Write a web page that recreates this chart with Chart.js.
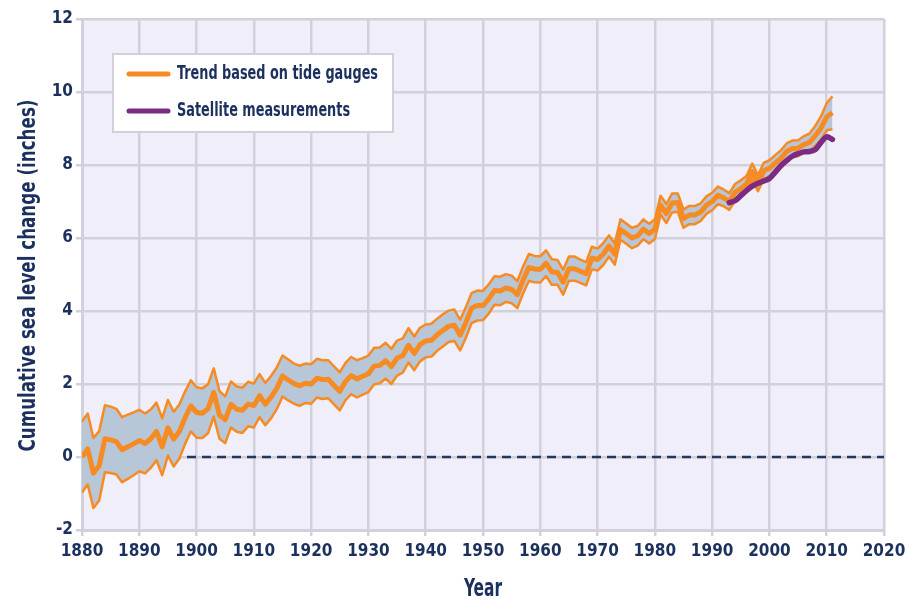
<!DOCTYPE html>
<html>
<head>
<meta charset="utf-8">
<title>Global average absolute sea level change</title>
<script src="https://cdn.jsdelivr.net/npm/chart.js@4.4.1/dist/chart.umd.min.js"></script>
<style>
  html, body { margin: 0; padding: 0; background: #fff; }
  #wrap { width: 917px; height: 601px; }
</style>
</head>
<body>
<div id="wrap"><canvas id="seaLevelChart" width="917" height="601"></canvas></div>
<script>
// Tide gauge reconstruction, one value per year starting 1880 (inches)
const trendStartYear = 1880;
const trendValues = [
  0.00, 0.22, -0.44, -0.24, 0.50, 0.47, 0.42, 0.20, 0.28, 0.36,
  0.45, 0.37, 0.50, 0.70, 0.28, 0.80, 0.49, 0.70, 1.08, 1.40,
  1.22, 1.20, 1.32, 1.77, 1.15, 1.02, 1.44, 1.31, 1.28, 1.45,
  1.41, 1.68, 1.45, 1.64, 1.88, 2.22, 2.11, 2.01, 1.95, 2.02,
  2.00, 2.16, 2.12, 2.13, 1.96, 1.80, 2.07, 2.23, 2.14, 2.21,
  2.28, 2.49, 2.51, 2.64, 2.48, 2.71, 2.78, 3.06, 2.84, 3.08,
  3.18, 3.20, 3.35, 3.47, 3.58, 3.61, 3.34, 3.68, 4.08, 4.15,
  4.15, 4.33, 4.56, 4.55, 4.63, 4.59, 4.45, 4.85, 5.19, 5.15,
  5.14, 5.31, 5.07, 5.06, 4.79, 5.16, 5.16, 5.09, 5.02, 5.45,
  5.41, 5.56, 5.78, 5.56, 6.23, 6.12, 6.00, 6.06, 6.24, 6.12,
  6.24, 6.90, 6.67, 6.96, 6.97, 6.53, 6.63, 6.63, 6.71, 6.90,
  7.00, 7.17, 7.10, 7.00, 7.25, 7.35, 7.48, 7.82, 7.50, 7.84,
  7.91, 8.05, 8.18, 8.37, 8.45, 8.46, 8.56, 8.62, 8.80, 9.01,
  9.32, 9.43
];
// Plus/minus uncertainty of the reconstruction for the same years
const trendError = [
  0.97, 0.97, 0.96, 0.95, 0.92, 0.91, 0.90, 0.89, 0.88, 0.86,
  0.84, 0.82, 0.80, 0.79, 0.78, 0.76, 0.75, 0.74, 0.72, 0.70,
  0.69, 0.68, 0.67, 0.66, 0.65, 0.64, 0.63, 0.62, 0.62, 0.61,
  0.60, 0.59, 0.58, 0.58, 0.57, 0.56, 0.56, 0.55, 0.55, 0.54,
  0.54, 0.53, 0.53, 0.52, 0.52, 0.52, 0.51, 0.51, 0.51, 0.50,
  0.50, 0.50, 0.49, 0.49, 0.48, 0.48, 0.47, 0.47, 0.46, 0.46,
  0.45, 0.45, 0.44, 0.44, 0.43, 0.43, 0.42, 0.42, 0.41, 0.41,
  0.40, 0.40, 0.39, 0.39, 0.38, 0.38, 0.37, 0.37, 0.37, 0.36,
  0.36, 0.35, 0.35, 0.34, 0.34, 0.33, 0.33, 0.32, 0.32, 0.31,
  0.30, 0.30, 0.29, 0.29, 0.28, 0.28, 0.28, 0.27, 0.27, 0.27,
  0.27, 0.26, 0.26, 0.26, 0.25, 0.25, 0.25, 0.25, 0.24, 0.24,
  0.24, 0.24, 0.23, 0.23, 0.23, 0.23, 0.22, 0.22, 0.22, 0.22,
  0.22, 0.22, 0.22, 0.22, 0.22, 0.22, 0.23, 0.24, 0.27, 0.32,
  0.37, 0.45
];

// Satellite altimetry
const satelliteYears = [1993, 1994, 1995, 1996, 1997, 1998, 1999, 2000, 2001, 2002,
                        2003, 2004, 2005, 2006, 2007, 2008, 2009, 2010, 2011];
const satelliteValues = [6.97, 7.02, 7.16, 7.30, 7.42, 7.50, 7.56, 7.63, 7.80, 7.98,
                         8.12, 8.24, 8.31, 8.36, 8.37, 8.42, 8.62, 8.77, 8.70];

const xTicks = { min: 1880, max: 2020, step: 10 };
const yTicks = { min: -2, max: 12, step: 2 };
const baseline = 0;

const seriesLabels = ["Trend based on tide gauges", "Satellite measurements"];
const xTitle = "Year";
const yTitle = "Cumulative sea level change (inches)";

// colours
const orange = "#f68b24";
const purple = "#7c2a82";
const bandFill = "#b8c7d7";
const plotBg = "#f0eef8";
const gridColor = "#d2d0dc";
const navy = "#1c305e";
const fontFamily = "'Liberation Sans Narrow', 'DejaVu Sans Condensed', 'DejaVu Sans', sans-serif";
const tickFont = { family: fontFamily, size: 17, weight: "bold condensed" };

const trendPoints = trendValues.map((v, i) => ({ x: trendStartYear + i, y: v }));
const upperPoints = trendValues.map((v, i) => ({ x: trendStartYear + i, y: v + trendError[i] }));
const lowerPoints = trendValues.map((v, i) => ({ x: trendStartYear + i, y: v - trendError[i] }));
const satellitePoints = satelliteYears.map((yr, i) => ({ x: yr, y: satelliteValues[i] }));

// draws a bold label squeezed horizontally to a given width (narrow face look)
function narrowText(ctx, text, x, y, size, width) {
  ctx.font = "bold " + size + "px " + fontFamily;
  const w = ctx.measureText(text).width;
  ctx.save();
  ctx.translate(x, y);
  ctx.scale(width / w, 1);
  ctx.fillText(text, 0, 0);
  ctx.restore();
}

// lavender plot background
const plotBackground = {
  id: "plotBackground",
  beforeDraw(chart) {
    const { ctx, chartArea: a } = chart;
    ctx.save();
    ctx.fillStyle = plotBg;
    ctx.fillRect(a.left, a.top, a.right - a.left, a.bottom - a.top);
    ctx.restore();
  }
};

// axis titles in the narrow bold style
const axisTitles = {
  id: "axisTitles",
  afterDraw(chart) {
    const { ctx, scales } = chart;
    ctx.save();
    ctx.fillStyle = navy;
    ctx.textAlign = "left";
    ctx.textBaseline = "middle";
    const xMid = (scales.x.left + scales.x.right) / 2;
    narrowText(ctx, xTitle, xMid - 19, 590, 24, 38);
    ctx.translate(29, (scales.y.top + scales.y.bottom) / 2 + 1);
    ctx.rotate(-Math.PI / 2);
    narrowText(ctx, yTitle, -176, 0, 23, 352);
    ctx.restore();
  }
};

// boxed legend sitting inside the plot, top left
const insetLegend = {
  id: "insetLegend",
  afterDraw(chart) {
    const { ctx, chartArea: a } = chart;
    const items = chart.data.datasets.filter(d => d.inLegend);
    const boxX = a.left + 31, boxY = a.top + 35, boxW = 280, boxH = 78;
    ctx.save();
    ctx.fillStyle = "#ffffff";
    ctx.fillRect(boxX, boxY, boxW, boxH);
    ctx.strokeStyle = gridColor;
    ctx.lineWidth = 2;
    ctx.strokeRect(boxX, boxY, boxW, boxH);
    ctx.textBaseline = "middle";
    ctx.lineCap = "round";
    ctx.font = "bold 19px " + fontFamily;
    const squeeze = 201 / ctx.measureText(items[0].label).width;
    items.forEach((d, i) => {
      const y = boxY + 20 + i * 37;
      ctx.strokeStyle = d.borderColor;
      ctx.lineWidth = 5;
      ctx.beginPath();
      ctx.moveTo(boxX + 16, y);
      ctx.lineTo(boxX + 55, y);
      ctx.stroke();
      ctx.fillStyle = navy;
      ctx.font = "bold 19px " + fontFamily;
      const w = ctx.measureText(d.label).width * squeeze;
      narrowText(ctx, d.label, boxX + 64, y, 19, w);
    });
    ctx.restore();
  }
};

const ctx = document.getElementById("seaLevelChart").getContext("2d");

new Chart(ctx, {
  type: "line",
  data: {
    datasets: [
      {
        label: seriesLabels[0],
        inLegend: true,
        data: trendPoints,
        borderColor: orange,
        borderWidth: 5,
        pointRadius: 0,
        borderJoinStyle: "round",
        fill: false,
        order: 1
      },
      {
        label: seriesLabels[1],
        inLegend: true,
        data: satellitePoints,
        borderColor: purple,
        borderWidth: 5.5,
        pointRadius: 0,
        tension: 0.35,
        borderJoinStyle: "round",
        borderCapStyle: "round",
        fill: false,
        order: 0
      },
      {
        label: "upper",
        data: upperPoints,
        borderColor: orange,
        borderWidth: 2.5,
        pointRadius: 0,
        borderJoinStyle: "round",
        backgroundColor: bandFill,
        fill: "+1",
        order: 3
      },
      {
        label: "lower",
        data: lowerPoints,
        borderColor: orange,
        borderWidth: 2.5,
        pointRadius: 0,
        borderJoinStyle: "round",
        fill: false,
        order: 2
      },
      {
        label: "zero",
        data: [{ x: xTicks.min, y: baseline }, { x: xTicks.max, y: baseline }],
        borderColor: "#1f3866",
        borderWidth: 2.5,
        borderDash: [9, 6],
        pointRadius: 0,
        fill: false,
        order: 4
      }
    ]
  },
  options: {
    responsive: false,
    animation: false,
    events: [],
    layout: { padding: { top: 19, right: 33, left: 0, bottom: 0 } },
    plugins: {
      legend: { display: false },
      tooltip: { enabled: false }
    },
    scales: {
      x: {
        type: "linear",
        min: xTicks.min,
        max: xTicks.max,
        afterFit: s => { s.height = 71; },
        ticks: {
          stepSize: xTicks.step,
          padding: 5,
          color: navy,
          font: tickFont,
          callback: v => String(v)
        },
        grid: { color: gridColor, lineWidth: 2.5, tickLength: 6, tickColor: gridColor },
        border: { color: gridColor, width: 3 }
      },
      y: {
        min: yTicks.min,
        max: yTicks.max,
        afterFit: s => { s.width = 82; },
        ticks: {
          stepSize: yTicks.step,
          padding: 3,
          color: navy,
          font: tickFont
        },
        grid: { color: gridColor, lineWidth: 2.5, tickLength: 6, tickColor: gridColor },
        border: { color: gridColor, width: 3 }
      }
    }
  },
  plugins: [plotBackground, axisTitles, insetLegend]
});
</script>
</body>
</html>
